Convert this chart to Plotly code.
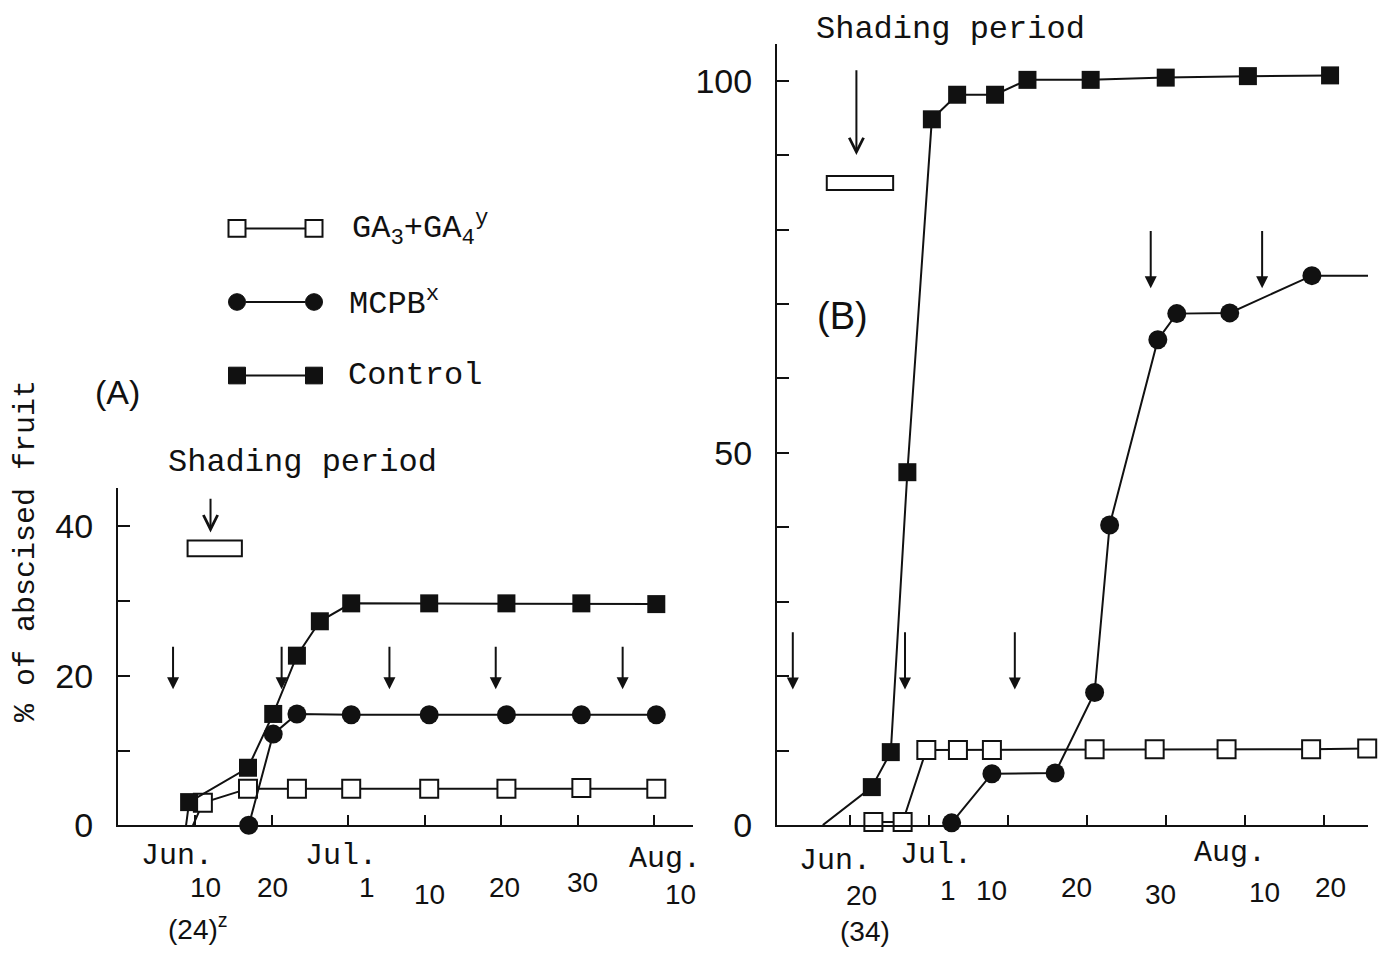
import plotly.graph_objects as go

W, H = 1391, 974

# ---------------- data ----------------
# x values: position along the date axis (Jun.10=10, Jun.20=20, Jul.1=30, Jul.10=40,
# Jul.20=50, Jul.30=60, Aug.10=70, Aug.20=80); y values: % of abscised fruit
# Panel (A)
a_ga_x = [9.7, 11.0, 16.9, 23.3, 30.4, 40.6, 50.7, 60.5, 70.3]
a_ga_y = [0, 3.0, 4.9, 4.9, 4.9, 4.9, 4.9, 5.0, 4.9]
a_mcpb_x = [17.0, 20.2, 23.3, 30.4, 40.6, 50.7, 60.5, 70.3]
a_mcpb_y = [0, 12.2, 14.9, 14.8, 14.8, 14.8, 14.8, 14.8]
a_ctrl_x = [8.8, 9.2, 16.9, 20.2, 23.3, 26.3, 30.4, 40.6, 50.7, 60.5, 70.3]
a_ctrl_y = [0, 3.1, 7.7, 14.9, 22.7, 27.3, 29.7, 29.7, 29.7, 29.7, 29.6]
a_spray_x = [7.1, 21.3, 35.4, 49.3, 65.9]
a_shade_start, a_shade_end = 9.0, 16.1

# Panel (B)
b_ga_x = [23.0, 26.7, 29.7, 33.7, 38.0, 51.0, 58.6, 67.7, 78.4, 85.5]
b_ga_y = [0.4, 0.4, 10.1, 10.1, 10.1, 10.2, 10.2, 10.2, 10.2, 10.3]
b_mcpb_x = [32.9, 38.0, 46.0, 51.0, 52.9, 59.0, 61.4, 68.1, 78.5, 85.8]
b_mcpb_y = [0.3, 6.9, 7.0, 17.8, 40.3, 65.2, 68.7, 68.8, 73.8, 73.8]
b_ctrl_x = [16.6, 22.8, 25.2, 27.3, 30.4, 33.6, 38.4, 42.5, 50.5, 60.0, 70.4, 80.8]
b_ctrl_y = [0, 5.1, 9.8, 47.4, 94.8, 98.1, 98.1, 100.1, 100.1, 100.4, 100.6, 100.7]
b_spray_x = [12.8, 27.0, 40.9, 58.1, 72.2]
b_shade_start, b_shade_end = 17.1, 25.5

# text
series_names = ["GA<sub>3</sub>+GA<sub>4</sub><sup>y</sup>", "MCPB<sup>x</sup>", "Control"]
a_month_labels = ["Jun.", "Jul.", "Aug."]
a_day_labels = ["10", "20", "1", "10", "20", "30", "10"]
a_count_label = "(24)<sup>z</sup>"
b_month_labels = ["Jun.", "Jul.", "Aug."]
b_day_labels = ["20", "1", "10", "20", "30", "10", "20"]
b_count_label = "(34)"
a_yticks = [0, 10, 20, 30, 40]
a_yticktext = ["0", "", "20", "", "40"]
b_yticks = list(range(0, 101, 10))
b_yticktext = ["0", "", "", "", "", "50", "", "", "", "", "100"]

# ---------------- styling ----------------
MONO = "Liberation Mono, Courier New, monospace"
SANS = "Liberation Sans, Arial, sans-serif"
BLACK = "#111111"
LW = 2


def py(p):
    return 1 - p / H


def px(p):
    return p / W


fig = go.Figure()


def add_series(x, y, xa, ya, kind, mstart):
    fig.add_trace(go.Scatter(x=x, y=y, xaxis=xa, yaxis=ya, mode="lines",
                             line=dict(color=BLACK, width=LW), showlegend=False,
                             hoverinfo="skip", cliponaxis=False))
    if kind == "open":
        marker = dict(symbol="square", size=18, color="white", line=dict(color=BLACK, width=2))
    elif kind == "circle":
        marker = dict(symbol="circle", size=19, color=BLACK, line=dict(width=0))
    else:
        marker = dict(symbol="square", size=18, color=BLACK, line=dict(width=0))
    fig.add_trace(go.Scatter(x=x[mstart:], y=y[mstart:], xaxis=xa, yaxis=ya, mode="markers",
                             marker=marker, showlegend=False, cliponaxis=False))


add_series(a_ga_x, a_ga_y, "x", "y", "open", 1)
add_series(a_mcpb_x, a_mcpb_y, "x", "y", "circle", 0)
add_series(a_ctrl_x, a_ctrl_y, "x", "y", "filled", 1)
add_series(b_ga_x, b_ga_y, "x2", "y2", "open", 0)
add_series(b_mcpb_x, b_mcpb_y, "x2", "y2", "circle", 0)
add_series(b_ctrl_x, b_ctrl_y, "x2", "y2", "filled", 1)

axis_common = dict(showline=True, linecolor=BLACK, linewidth=LW, ticks="inside",
                   tickcolor=BLACK, tickwidth=LW, showgrid=False, zeroline=False)

fig.update_layout(
    width=W, height=H, margin=dict(l=0, r=0, t=0, b=0),
    paper_bgcolor="white", plot_bgcolor="rgba(0,0,0,0)",
    xaxis=dict(domain=[px(118), px(693)], range=[-0.1, 75.1], anchor="y",
               tickvals=[10, 20, 30, 40, 50, 60, 70], showticklabels=False, ticklen=10,
               **axis_common),
    yaxis=dict(domain=[py(841.7), py(498)], range=[0, 45.1], anchor="x",
               tickvals=a_yticks, ticktext=a_yticktext, ticklen=12,
               tickfont=dict(family=SANS, size=34, color=BLACK), ticklabelstandoff=16,
               **axis_common),
    xaxis2=dict(domain=[px(777), px(1368)], range=[10.8, 85.6], anchor="y2",
                tickvals=[20, 30, 40, 50, 60, 70, 80], showticklabels=False, ticklen=10,
                **axis_common),
    yaxis2=dict(domain=[py(841.5), py(45)], range=[0, 104.9], anchor="x2",
                tickvals=b_yticks, ticktext=b_yticktext, ticklen=12,
                tickfont=dict(family=SANS, size=34, color=BLACK), ticklabelstandoff=16,
                **axis_common),
)

ann = []


def text(x, y, t, xref="paper", yref="paper", size=30, family=MONO, xanchor="center", angle=0):
    ann.append(dict(x=x, y=y, xref=xref, yref=yref, text=t, showarrow=False,
                    xanchor=xanchor, yanchor="middle", textangle=angle,
                    font=dict(family=family, size=size, color=BLACK)))


# x-axis labels panel A
for t, u, yy in zip(a_month_labels, [7.6, 29.1, 71.4], [873, 873, 876]):
    text(u, py(yy), t, xref="x")
for t, u, yy in zip(a_day_labels, [11.4, 20.1, 32.4, 40.7, 50.5, 60.6, 73.4], [905, 905, 905, 912, 905, 900, 912]):
    text(u, py(yy), t, xref="x", family=SANS, size=28)
text(10.3, py(945), a_count_label, xref="x", family=SANS, size=28)

# x-axis labels panel B
for t, u, yy in zip(b_month_labels, [18.2, 30.9, 68.1], [878, 872, 870]):
    text(u, py(yy), t, xref="x2")
for t, u, yy in zip(b_day_labels, [21.5, 32.4, 38.0, 48.7, 59.3, 72.5, 80.8], [913, 908, 908, 905, 912, 910, 905]):
    text(u, py(yy), t, xref="x2", family=SANS, size=28)
text(22.0, py(950), b_count_label, xref="x2", family=SANS, size=28)

# panel labels, titles
text(px(117), py(400), "(A)", family=SANS, size=34)
text(px(842), py(322), "(B)", family=SANS, size=38)
text(px(302), py(472), "Shading period", size=32)
text(px(950), py(30), "Shading period", size=32)
text(px(26), py(562), "% of abscised fruit", size=30, angle=-90)

# legend text
for name, rowy, x0 in zip(series_names, [233, 308, 383], [350, 347, 346]):
    text(px(x0), py(rowy), name, size=32, xanchor="left")


def arrow(x, y_tail, y_head, xr, yr, head=2, size=1.2):
    ann.append(dict(x=x, y=y_head, ax=x, ay=y_tail, xref=xr, yref=yr, axref=xr, ayref=yr,
                    text="", showarrow=True, arrowhead=head, arrowsize=size,
                    arrowwidth=2, arrowcolor=BLACK))


for u in a_spray_x:
    arrow(u, 24.1, 18.2, "x", "y")
arrow(12.0, 43.9, 39.2, "x", "y", head=5, size=1.4)
for u in b_spray_x[:3]:
    arrow(u, 26.1, 18.2, "x2", "y2")
for u in b_spray_x[3:]:
    arrow(u, 80.0, 72.1, "x2", "y2")
arrow(20.85, 101.6, 90.0, "x2", "y2", head=5, size=1.4)

fig.update_layout(annotations=ann)

shapes = []
# shading period bars
shapes.append(dict(type="rect", xref="x", yref="y", x0=a_shade_start, x1=a_shade_end, y0=36.0, y1=38.1,
                   line=dict(color=BLACK, width=2), fillcolor="white"))
shapes.append(dict(type="rect", xref="x2", yref="y2", x0=b_shade_start, x1=b_shade_end, y0=85.3, y1=87.2,
                   line=dict(color=BLACK, width=2), fillcolor="white"))

# legend glyphs
for kind, rowy in zip(["open", "circle", "filled"], [233, 308, 383]):
    shapes.append(dict(type="line", xref="paper", yref="paper", x0=px(246), x1=px(305),
                       y0=py(rowy), y1=py(rowy), line=dict(color=BLACK, width=2)))
    for cx in (237, 314):
        r = 8.5
        if kind == "circle":
            shapes.append(dict(type="circle", xref="paper", yref="paper", x0=px(cx - r), x1=px(cx + r),
                               y0=py(rowy + r), y1=py(rowy - r), line=dict(color=BLACK, width=1),
                               fillcolor=BLACK))
        else:
            shapes.append(dict(type="rect", xref="paper", yref="paper", x0=px(cx - r), x1=px(cx + r),
                               y0=py(rowy + r), y1=py(rowy - r),
                               line=dict(color=BLACK, width=2 if kind == "open" else 1),
                               fillcolor="white" if kind == "open" else BLACK))
fig.update_layout(shapes=shapes)

fig.write_html("out.html")
